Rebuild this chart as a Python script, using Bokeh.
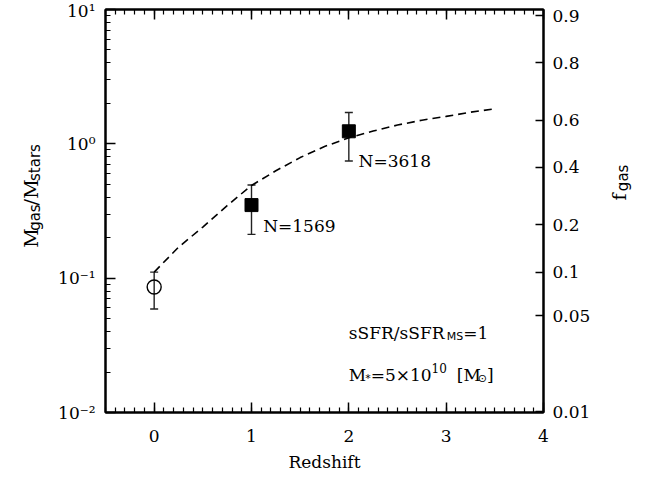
import math
from bokeh.plotting import figure
from bokeh.layouts import row
from bokeh.models import (ColumnDataSource, Whisker, TeeHead, Label, LogAxis, LinearAxis,
                          FixedTicker, LogTicker, SingleIntervalTicker, CustomJSTickFormatter)
from bokeh.core.properties import value
from bokeh.embed import file_html
from bokeh.resources import INLINE

# ---------------- data ----------------
curve_z = [0.0, 0.25, 0.5, 0.75, 1.0, 1.25, 1.5, 1.75, 2.0, 2.25, 2.5, 2.75, 3.0, 3.25, 3.5]
curve_ratio = [0.111, 0.17, 0.24, 0.347, 0.49, 0.63, 0.79, 0.955, 1.11, 1.245, 1.38, 1.50, 1.60, 1.72, 1.82]

local_z = [0.0]
local_ratio = [0.086]
local_lo = [0.059]
local_hi = [0.111]

stack_z = [1.0, 2.0]
stack_ratio = [0.35, 1.24]
stack_lo = [0.212, 0.746]
stack_hi = [0.494, 1.71]
stack_labels = ["N=1569", "N=3618"]
label_z = [1.12, 2.1]
label_ratio = [0.244, 0.746]

x_ticks = [0, 1, 2, 3, 4]
fgas_ticks = [0.01, 0.05, 0.1, 0.2, 0.4, 0.6, 0.8, 0.9]
ratio_ticks = [f / (1.0 - f) for f in fgas_ticks]

SERIF = "DejaVu Serif"
SANS = "DejaVu Sans"
H = 477
LEFT_W, RIGHT_W = 45, 47

# ---------------- main figure ----------------
p = figure(width=647 - LEFT_W - RIGHT_W, height=H, x_range=(-0.5, 4.0), y_range=(0.01, 10.0),
           y_axis_type="log", output_backend="svg", toolbar_location=None,
           min_border_left=105 - LEFT_W, min_border_right=104 - RIGHT_W,
           min_border_top=9, min_border_bottom=65)
p.xgrid.visible = False
p.ygrid.visible = False
p.outline_line_color = "black"
p.outline_line_width = 2
p.background_fill_color = "white"
p.border_fill_color = "white"


def style_axis(ax, tick_in=10, minor_in=5):
    ax.axis_line_color = "black"
    ax.axis_line_width = 2
    ax.major_tick_in = tick_in
    ax.major_tick_out = 0
    ax.minor_tick_in = minor_in
    ax.minor_tick_out = 0
    ax.major_tick_line_width = 1.5
    ax.minor_tick_line_width = 1.2
    ax.major_tick_line_color = "black"
    ax.minor_tick_line_color = "black"
    ax.major_label_text_font = SERIF
    ax.major_label_text_font_size = "17px"
    ax.major_label_text_color = "black"


# bottom axis
xa = p.xaxis[0]
xa.ticker = SingleIntervalTicker(interval=1, num_minor_ticks=10)
style_axis(xa)
xa.major_label_standoff = 17
xa.axis_label = "Redshift"
xa.axis_label_text_font = SERIF
xa.axis_label_text_font_size = "17px"
xa.axis_label_text_font_style = "normal"
xa.axis_label_text_color = "black"
xa.axis_label_standoff = 7

# top axis (mirror, no labels)
top = LinearAxis(ticker=SingleIntervalTicker(interval=1, num_minor_ticks=10),
                 formatter=CustomJSTickFormatter(code="return '';"))
style_axis(top)
top.major_label_text_font_size = "1px"
top.major_label_standoff = 0
p.add_layout(top, "above")

# left axis
ya = p.yaxis[0]
ya.ticker = LogTicker(num_minor_ticks=10)
style_axis(ya)
ya.major_label_standoff = 10
ya.formatter = CustomJSTickFormatter(code="""
const e = Math.round(Math.log10(tick));
const m = {'-':'\u207b','0':'\u2070','1':'\u00b9','2':'\u00b2','3':'\u00b3'};
return '10' + String(e).split('').map(c => m[c]).join('');
""")

# right axis: gas fraction
ra = LogAxis(ticker=FixedTicker(ticks=ratio_ticks, minor_ticks=[]),
             formatter=CustomJSTickFormatter(code="""
const f = tick / (1 + tick);
return String(Math.round(f * 100) / 100);
"""))
style_axis(ra, tick_in=8, minor_in=0)
ra.major_label_standoff = 9
p.add_layout(ra, "right")

# ---------------- data glyphs ----------------
p.line(curve_z, curve_ratio, line_color="black", line_width=1.6, line_dash="8 5")

src_local = ColumnDataSource(dict(z=local_z, r=local_ratio, lo=local_lo, hi=local_hi))
src_stack = ColumnDataSource(dict(z=stack_z, r=stack_ratio, lo=stack_lo, hi=stack_hi))

for src in (src_local, src_stack):
    w = Whisker(base="z", upper="hi", lower="lo", source=src, dimension="height",
                line_color="#222222", line_width=1.4,
                upper_head=TeeHead(size=8, line_color="#222222", line_width=1.4),
                lower_head=TeeHead(size=8, line_color="#222222", line_width=1.4),
                level="underlay")
    p.add_layout(w)

p.scatter("z", "r", source=src_local, marker="circle", size=14,
          fill_color=None, line_color="black", line_width=1.4)
p.scatter("z", "r", source=src_stack, marker="square", size=13,
          fill_color="black", line_color="black")

# ---------------- texts inside the plot ----------------
W_SERIF = {' ': .318, '=': .838, '.': .318, '/': .337, '[': .390, ']': .390, 'M': .96,
           'N': .833, 'S': .687, 'F': .726, 'R': .770, 's': .531, 'f': .40, '\u00d7': .838}
W_SANS = {'g': .635, 'a': .613, 's': .521, 't': .392, 'r': .411, 'M': .863, 'S': .635,
          '*': .5, '\u2299': .84}


def tw(s, font, size):
    table = W_SANS if font == SANS else W_SERIF
    return sum(table.get(c, .636) for c in s) * size


def run(pieces, x, y):
    adv = 0.0
    for text, font, size, shift, pre in pieces:
        adv += pre
        p.add_layout(Label(x=x, y=y, text=text,
                           text_font=font, text_font_size=f"{size}px", text_color="black",
                           x_offset=adv, y_offset=-shift,
                           text_align="left", text_baseline="alphabetic"))
        adv += tw(text, font, size)


for t, zx, ry in zip(stack_labels, label_z, label_ratio):
    run([(t, SERIF, 17, 0, 0)], zx, ry)

run([("sSFR/sSFR", SERIF, 17, 0, 0), ("MS", SANS, 11, 3, 0), ("=1", SERIF, 17, 0, 0)],
    2.0, 0.039)
run([("M", SERIF, 17, 0, 0), ("*", SANS, 11, 3, 0), ("=5\u00d710", SERIF, 17, 0, 0),
     ("10", SERIF, 12, -7, 0), ("[M", SERIF, 17, 0, 10), ("\u2299", SANS, 11, 3, -2),
     ("]", SERIF, 17, 0, 0)],
    2.0, 0.0189)


# ---------------- side strips carrying the rotated axis titles ----------------
def side_fig(w):
    f = figure(width=w, height=H, x_range=(0, w), y_range=(0, H),
               x_axis_location=None, y_axis_location=None, min_border=0,
               toolbar_location=None, output_backend="svg", outline_line_color=None)
    f.xgrid.visible = False
    f.ygrid.visible = False
    return f


def vertical_text(f, text, font, size, x, y):
    f.text(x=[x], y=[y], text=[text], angle=math.pi / 2,
           text_font=value(font), text_font_size=f"{size}px", text_color="black",
           text_align="left", text_baseline="alphabetic")


# y-axis title: pieces placed upward (strip pixels, y from bottom)
left = side_fig(LEFT_W)
vertical_text(left, "M", SERIF, 19, 30, 195)
vertical_text(left, "gas", SANS, 15, 34, 215)
vertical_text(left, "/", SERIF, 19, 30, 245)
vertical_text(left, "M", SERIF, 19, 30, 253)
vertical_text(left, "stars", SANS, 15, 34, 274)

right = side_fig(RIGHT_W)
vertical_text(right, "f", SERIF, 19, 18, 251)
vertical_text(right, "gas", SANS, 15, 22, 262)

layout = row(left, p, right)
open("out.html", "w").write(file_html(layout, INLINE))
